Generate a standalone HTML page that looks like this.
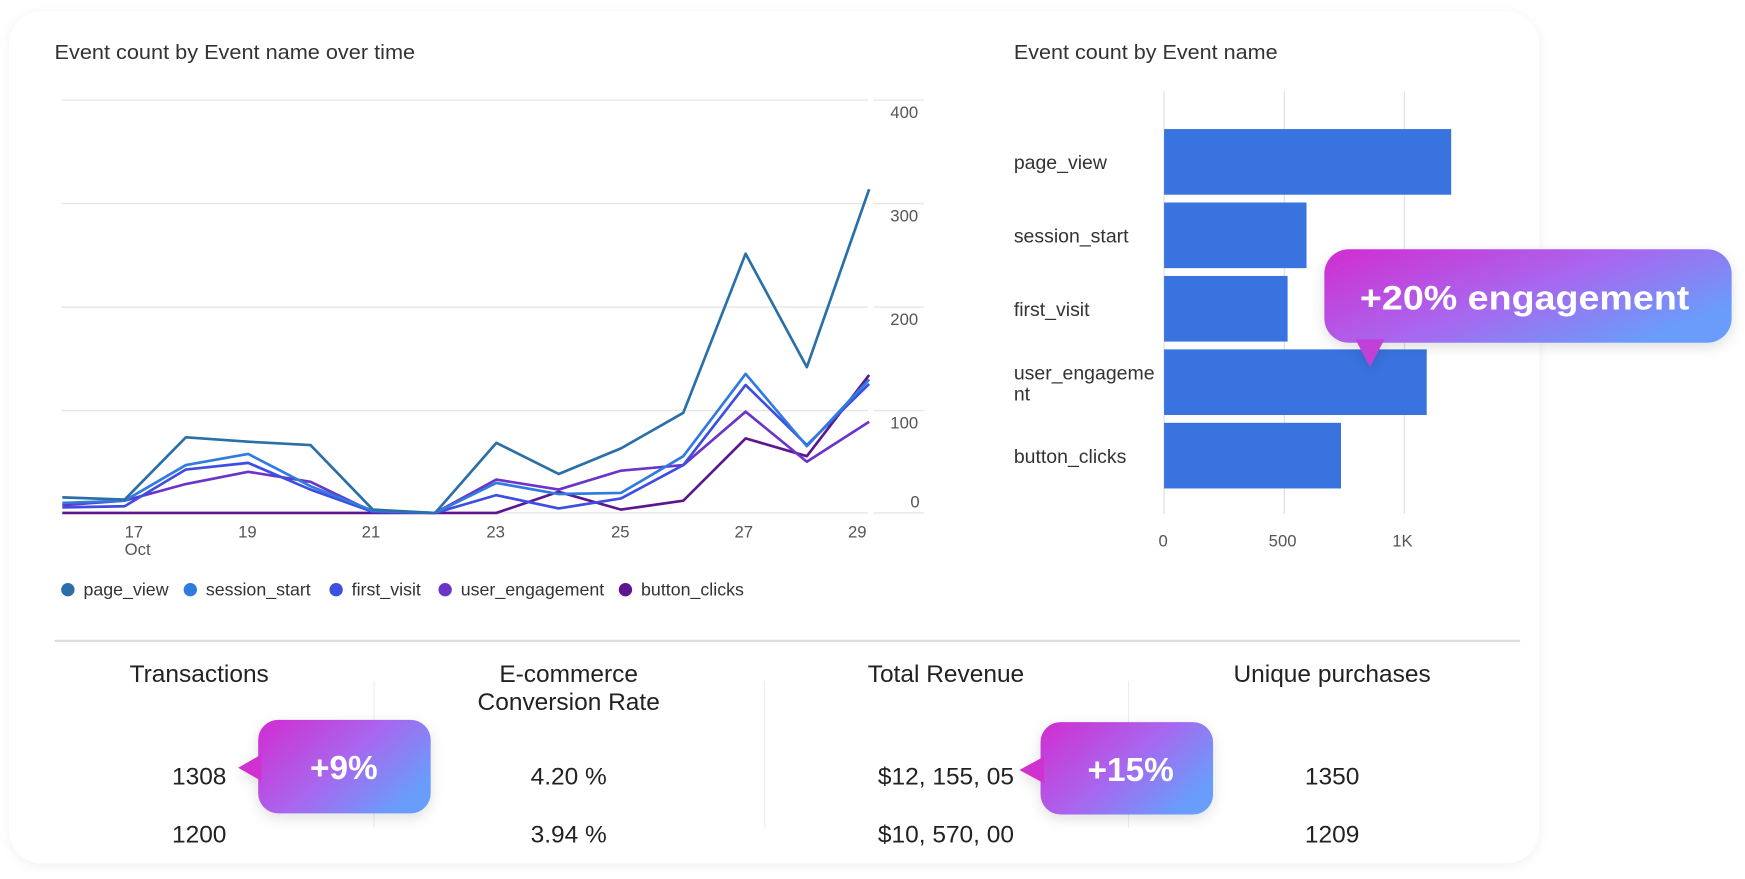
<!DOCTYPE html>
<html><head><meta charset="utf-8"><style>
html,body{margin:0;padding:0;background:#fff;}
svg{display:block;font-family:"Liberation Sans",Arial,sans-serif;}
</style></head><body>
<svg width="1745" height="879" viewBox="0 0 1568 790" preserveAspectRatio="none" xmlns="http://www.w3.org/2000/svg">
<defs>
<linearGradient id="g" x1="0" y1="0" x2="1" y2="0.6">
<stop offset="0" stop-color="#d22cd0"/><stop offset="0.55" stop-color="#a966ee"/><stop offset="1" stop-color="#6a9cfb"/>
</linearGradient>
<filter id="sh" x="-10%" y="-10%" width="120%" height="130%"><feDropShadow dx="0" dy="4" stdDeviation="6" flood-color="#000" flood-opacity="0.12"/></filter>
<filter id="sh2" x="-5%" y="-5%" width="110%" height="110%"><feDropShadow dx="0" dy="2" stdDeviation="5" flood-color="#000" flood-opacity="0.06"/></filter>
</defs>
<rect x="8" y="10" width="1375" height="766" rx="30" fill="#fff" filter="url(#sh2)"/>
<text x="49" y="53" font-size="18.5" fill="#333" textLength="324" lengthAdjust="spacingAndGlyphs">Event count by Event name over time</text>
<g stroke="#e6e6e6" stroke-width="1.2">
<line x1="55" y1="90" x2="780" y2="90"/><line x1="55" y1="183" x2="780" y2="183"/>
<line x1="55" y1="276" x2="780" y2="276"/><line x1="55" y1="369" x2="780" y2="369"/>
<line x1="55" y1="461" x2="780" y2="461"/>
<line x1="785" y1="90" x2="830" y2="90"/><line x1="785" y1="183" x2="830" y2="183"/>
<line x1="785" y1="276" x2="830" y2="276"/><line x1="785" y1="369" x2="830" y2="369"/>
<line x1="785" y1="461" x2="830" y2="461"/>
</g>
<g font-size="15" fill="#555">
<text x="800" y="106">400</text><text x="800" y="199">300</text><text x="800" y="292">200</text><text x="800" y="385">100</text><text x="818" y="456">0</text>
<text x="112" y="483">17</text><text x="112" y="499">Oct</text><text x="214" y="483">19</text><text x="325" y="483">21</text>
<text x="437" y="483">23</text><text x="549" y="483">25</text><text x="660" y="483">27</text><text x="762" y="483">29</text>
</g>
<g fill="none" stroke-width="2.4" stroke-linejoin="round">
<polyline stroke="#5e1690" points="56,461 112,461 167,461 223,461 279,461 335,461 391,461 446,461 502,442 558,458 614,450 670,394 725,410 781,337"/>
<polyline stroke="#6a35c8" points="56,454 112,450 167,435 223,424 279,433 335,460 391,461 446,431 502,440 558,423 614,418 670,370 725,415 781,379"/>
<polyline stroke="#3d4ee0" points="56,456 112,455 167,422 223,416 279,440 335,460 391,461 446,445 502,457 558,448 614,418 670,346 725,400 781,345"/>
<polyline stroke="#2f7be0" points="56,452 112,450 167,418 223,408 279,437 335,459 391,461 446,434 502,444 558,443 614,410 670,336 725,401 781,341"/>
<polyline stroke="#2a6fa8" points="56,447 112,449 167,393 223,397 279,400 335,458 391,461 446,398 502,426 558,403 614,371 670,228 725,330 781,170"/>
</g>
<g font-size="16" fill="#333">
<circle cx="61" cy="530" r="6" fill="#2a6fa8"/><text x="75" y="535">page_view</text>
<circle cx="171" cy="530" r="6" fill="#2f7be0"/><text x="185" y="535">session_start</text>
<circle cx="302" cy="530" r="6" fill="#3d4ee0"/><text x="316" y="535">first_visit</text>
<circle cx="400" cy="530" r="6" fill="#6a35c8"/><text x="414" y="535">user_engagement</text>
<circle cx="562" cy="530" r="6" fill="#5e1690"/><text x="576" y="535">button_clicks</text>
</g>
<text x="911" y="53" font-size="18.5" fill="#333" textLength="237" lengthAdjust="spacingAndGlyphs">Event count by Event name</text>
<g stroke="#e3e3e3" stroke-width="1.2">
<line x1="1046" y1="82" x2="1046" y2="462"/><line x1="1154" y1="82" x2="1154" y2="462"/><line x1="1262" y1="82" x2="1262" y2="462"/>
</g>
<g fill="#3973df">
<rect x="1046" y="116" width="258" height="59"/><rect x="1046" y="182" width="128" height="59"/>
<rect x="1046" y="248" width="111" height="59"/><rect x="1046" y="314" width="236" height="59"/>
<rect x="1046" y="380" width="159" height="59"/>
</g>
<g font-size="15" fill="#555"><text x="1041" y="491">0</text><text x="1140" y="491">500</text><text x="1251" y="491">1K</text></g>
<g font-size="17.5" fill="#333">
<text x="911" y="152">page_view</text><text x="911" y="218">session_start</text><text x="911" y="284">first_visit</text>
<text x="911" y="341">user_engageme</text><text x="911" y="360">nt</text><text x="911" y="416">button_clicks</text>
</g>
<g filter="url(#sh)">
<rect x="1190" y="224" width="366" height="84" rx="22" fill="url(#g)"/>
<polygon points="1218,305 1244,305 1231,330" fill="#c13fd8"/>
</g>
<text x="1370" y="278" font-size="31" font-weight="bold" fill="#fff" text-anchor="middle" textLength="296" lengthAdjust="spacingAndGlyphs">+20% engagement</text>
<line x1="49" y1="576" x2="1366" y2="576" stroke="#ddd" stroke-width="2"/>
<g stroke="#ececec" stroke-width="1"><line x1="336" y1="612" x2="336" y2="744"/><line x1="687" y1="612" x2="687" y2="744"/><line x1="1014" y1="612" x2="1014" y2="744"/></g>
<g font-size="22" fill="#222" text-anchor="middle">
<text x="179" y="613">Transactions</text><text x="511" y="613">E-commerce</text><text x="511" y="638">Conversion Rate</text>
<text x="850" y="613">Total Revenue</text><text x="1197" y="613">Unique purchases</text>
<text x="179" y="705">1308</text><text x="179" y="757">1200</text>
<text x="511" y="705">4.20 %</text><text x="511" y="757">3.94 %</text>
<text x="850" y="705">$12, 155, 05</text><text x="850" y="757">$10, 570, 00</text>
<text x="1197" y="705">1350</text><text x="1197" y="757">1209</text>
</g>
<g filter="url(#sh)">
<rect x="232" y="647" width="155" height="84" rx="18" fill="url(#g)"/>
<polygon points="235,678 235,702 214,690" fill="#d030d0"/>
<rect x="935" y="649" width="155" height="83" rx="18" fill="url(#g)"/>
<polygon points="938,680 938,704 916,692" fill="#d030d0"/>
</g>
<text x="309" y="700" font-size="30" font-weight="bold" fill="#fff" text-anchor="middle">+9%</text>
<text x="1016" y="702" font-size="30" font-weight="bold" fill="#fff" text-anchor="middle">+15%</text>
</svg>
</body></html>
